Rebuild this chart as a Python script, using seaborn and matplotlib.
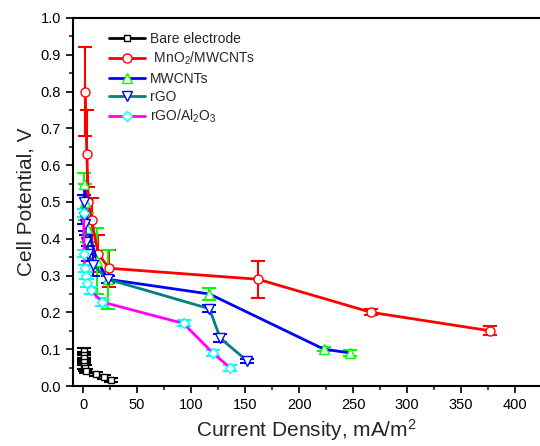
import matplotlib
matplotlib.use("Agg")
import matplotlib.pyplot as plt
import seaborn as sns
import pandas as pd
from matplotlib.ticker import MultipleLocator, FormatStrFormatter

sns.set_theme(style="ticks")
plt.rcParams["font.family"] = ["Liberation Sans", "DejaVu Sans"]
plt.rcParams["mathtext.fontset"] = "custom"
plt.rcParams["mathtext.rm"] = "Liberation Sans"
plt.rcParams["mathtext.it"] = "Liberation Sans"

# Polarization data: current density (mA/m^2), cell potential (V), error (V)
bare_x = [0.5, 0.6, 0.8, 1.0, 1.2, 1.5, 3.0, 12.0, 19.0, 26.0]
bare_y = [0.095, 0.085, 0.075, 0.065, 0.055, 0.048, 0.040, 0.032, 0.025, 0.016]
bare_e = [0.008, 0.008, 0.008, 0.008, 0.008, 0.008, 0.006, 0.006, 0.006, 0.006]

mno2_x = [2.0, 3.5, 5.0, 8.0, 14.0, 24.0, 162.0, 267.0, 377.0]
mno2_y = [0.80, 0.63, 0.50, 0.45, 0.36, 0.32, 0.29, 0.20, 0.15]
mno2_e = [0.12, 0.12, 0.04, 0.06, 0.05, 0.05, 0.05, 0.008, 0.012]

mwcnt_x = [1.0, 2.0, 4.0, 13.0, 23.0, 117.0, 223.0, 247.0]
mwcnt_y = [0.55, 0.50, 0.43, 0.34, 0.29, 0.25, 0.10, 0.09]
mwcnt_e = [0.03, 0.05, 0.04, 0.09, 0.08, 0.016, 0.006, 0.008]

rgo_x = [0.5, 1.0, 2.0, 3.0, 5.0, 9.0, 23.0, 117.0, 127.0, 152.0]
rgo_y = [0.50, 0.46, 0.44, 0.39, 0.36, 0.33, 0.29, 0.21, 0.13, 0.068]
rgo_e = [0.02, 0.02, 0.02, 0.02, 0.02, 0.03, 0.01, 0.01, 0.01, 0.006]

al_x = [0.5, 1.0, 1.5, 2.5, 4.0, 7.0, 18.0, 93.0, 120.0, 136.0]
al_y = [0.47, 0.36, 0.32, 0.30, 0.28, 0.26, 0.228, 0.17, 0.09, 0.05]
al_e = [0.01, 0.01, 0.01, 0.01, 0.01, 0.01, 0.01, 0.008, 0.008, 0.008]

series = [
    ("Bare electrode", bare_x, bare_y, bare_e, "black", "s", "black", "black", 5),
    (" MnO$_2$/MWCNTs", mno2_x, mno2_y, mno2_e, "#ff0000", "o", "#ff0000", "#ff0000", 6.5),
    ("MWCNTs", mwcnt_x, mwcnt_y, mwcnt_e, "#0000ff", "^", "#00ff00", "#00ff00", 6.5),
    ("rGO", rgo_x, rgo_y, rgo_e, "#008080", "v", "#0000ff", "#0000ff", 6.5),
    ("rGO/Al$_2$O$_3$", al_x, al_y, al_e, "#ff00ff", "D", "#00ffff", "#00ffff", 5.5),
]

fig = plt.figure(figsize=(5.40, 4.46), dpi=100)
ax = fig.add_axes([73 / 540, 60 / 446, 467 / 540, 368 / 446])

for label, xs, ys, es, lc, mk, mc, ec, ms in series:
    df = pd.DataFrame({"x": xs, "y": ys})
    ax.errorbar(xs, ys, yerr=es, fmt="none", ecolor=ec, elinewidth=1.5,
                capsize=5, capthick=1.5, zorder=2)
    sns.lineplot(data=df, x="x", y="y", ax=ax, estimator=None, sort=False,
                 color=lc, linewidth=2, marker=mk, markersize=ms,
                 markerfacecolor="white", markeredgecolor=mc,
                 markeredgewidth=1.0, label=label, zorder=3)

ax.set_xlim(-9.3, 423)
ax.set_ylim(0, 1.0)
ax.xaxis.set_major_locator(MultipleLocator(50))
ax.xaxis.set_minor_locator(MultipleLocator(25))
ax.yaxis.set_major_locator(MultipleLocator(0.1))
ax.yaxis.set_minor_locator(MultipleLocator(0.05))
ax.yaxis.set_major_formatter(FormatStrFormatter("%.1f"))
ax.tick_params(which="major", direction="out", length=5, width=1.2,
               labelsize=10.5, colors="black", top=False, right=False)
ax.tick_params(which="minor", direction="out", length=3, width=1.2,
               top=False, right=False)
for side in ("left", "bottom", "top"):
    ax.spines[side].set_color("black")
    ax.spines[side].set_linewidth(1.5)
ax.spines["right"].set_visible(False)

ax.set_xlabel("Current Density, mA/m$^2$", fontsize=15, labelpad=4)
ax.set_ylabel("Cell Potential, V", fontsize=15, labelpad=4)

ax.legend(loc="upper left", bbox_to_anchor=(0.06, 0.985), frameon=False,
          fontsize=10, handlelength=2.6, handletextpad=0.3,
          labelspacing=0.3, borderaxespad=0.2)

fig.savefig("out.png", dpi=100)
